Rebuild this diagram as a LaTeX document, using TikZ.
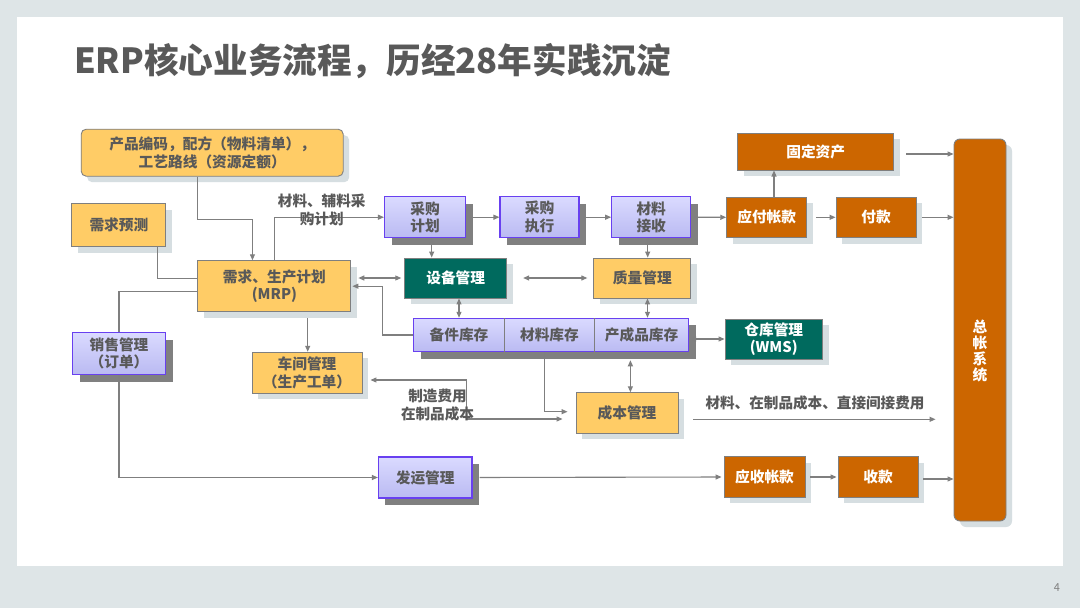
\documentclass[tikz,border=0pt]{standalone}
\usepackage{fontspec}
\setmainfont{Noto Sans CJK SC}
\usepackage{tikz}
\usetikzlibrary{arrows.meta, shadows}
\definecolor{slidebg}{RGB}{222, 229, 231}
\definecolor{txtgrey}{RGB}{89, 89, 89}
\definecolor{edgegrey}{RGB}{127, 127, 127}
\definecolor{boxyellow}{RGB}{255, 204, 102}
\definecolor{boxorange}{RGB}{204, 102, 0}
\definecolor{boxgreen}{RGB}{0, 106, 94}
\definecolor{lavtop}{RGB}{218, 218, 255}
\definecolor{lavbot}{RGB}{186, 186, 242}
\definecolor{lavedge}{RGB}{104, 64, 240}
\definecolor{softshadow}{RGB}{214, 222, 225}
\definecolor{hardshadow}{RGB}{128, 128, 128}

\begin{document}
\begin{tikzpicture}[x=1pt, y=-1pt,
  base/.style={inner sep=0pt, align=center, font=\fontsize{14.7}{17.5}\selectfont\bfseries},
  ybox/.style={base, draw=edgegrey, line width=0.9pt, fill=boxyellow, text=txtgrey,
    drop shadow={shadow xshift=6pt, shadow yshift=-6pt, fill=softshadow, opacity=1}},
  obox/.style={ybox, fill=boxorange, text=white},
  gbox/.style={ybox, fill=boxgreen, text=white},
  lbox/.style={base, draw=lavedge, line width=1.1pt, top color=lavtop, bottom color=lavbot, text=txtgrey,
    drop shadow={shadow xshift=7pt, shadow yshift=-7pt, fill=hardshadow, opacity=1}},
  cell/.style={base, text=txtgrey, minimum height=33.4pt},
  note/.style={base, text=txtgrey, font=\fontsize{14.6}{18}\selectfont\bfseries},
  link/.style={draw=edgegrey, line width=1.1pt},
  flow/.style={link, -{Triangle[length=6pt, width=5pt]}},
  twoway/.style={link, {Triangle[length=6pt, width=5pt]}-{Triangle[length=6pt, width=5pt]}}
]
  \useasboundingbox (0,0) rectangle (1080,608);
  \fill[slidebg] (0,0) rectangle (1080,608);
  \fill[white] (17,17) rectangle (1063,566);

  \node[anchor=west, inner sep=0pt, text=txtgrey, font=\fontsize{34.6}{40}\selectfont\bfseries] (title) at (74,61) {ERP核心业务流程，历经28年实践沉淀};
  \node[text=edgegrey, font=\fontsize{11}{13}\selectfont] (pageno) at (1057,588) {4};

  \node[ybox, rounded corners=5pt, minimum width=262pt, minimum height=47pt] (spec) at (212.2,152.7) {产品编码，配方（物料清单），\\工艺路线（资源定额）};
  \node[ybox, minimum width=94pt, minimum height=43pt] (fcst) at (118.9,225.4) {需求预测};
  \node[ybox, minimum width=153pt, minimum height=51pt] (mrp) at (274.4,286.2) {需求、生产计划\\(MRP)};
  \node[lbox, minimum width=93pt, minimum height=42pt] (sales) at (119,353.5) {销售管理\\（订单）};
  \node[ybox, minimum width=110pt, minimum height=41pt] (shop) at (307,372.7) {车间管理\\（生产工单）};
  \node[lbox, minimum width=81pt, minimum height=41pt] (plan) at (425,217.2) {采购\\计划};
  \node[lbox, minimum width=79pt, minimum height=41pt] (exec) at (539.5,217.2) {采购\\执行};
  \node[lbox, minimum width=79pt, minimum height=41pt] (recv) at (651.2,217.2) {材料\\接收};
  \node[gbox, minimum width=102pt, minimum height=40pt] (equip) at (455.7,278) {设备管理};
  \node[ybox, minimum width=97pt, minimum height=40pt] (qual) at (642.3,278) {质量管理};
  \node[lbox, minimum width=275pt, minimum height=33.4pt] (inv) at (551.1,335) {};
  \node[cell, minimum width=90.7pt] (spare) at (459,335) {备件库存};
  \node[cell, minimum width=90.3pt] (matinv) at (549.45,335) {材料库存};
  \node[cell, minimum width=94pt] (fginv) at (641.6,335) {产成品库存};
  \draw[link, line width=0.8pt] (spare.north east) -- (spare.south east) (matinv.north east) -- (matinv.south east);
  \node[gbox, minimum width=97.5pt, minimum height=40pt] (wms) at (773.75,339) {仓库管理\\(WMS)};
  \node[ybox, minimum width=102pt, minimum height=40.6pt] (cost) at (627,413) {成本管理};
  \node[obox, minimum width=80pt, minimum height=40.7pt] (ap) at (766.7,217.3) {应付帐款};
  \node[obox, minimum width=80pt, minimum height=40.7pt] (pay) at (876,217.3) {付款};
  \node[obox, minimum width=156pt, minimum height=36.7pt] (fa) at (815.7,151.7) {固定资产};
  \node[obox, rounded corners=6pt, minimum width=52pt, minimum height=382pt] (gl) at (980,330) {};
  \node[base, text=white, font=\fontsize{14.7}{15.8}\selectfont\bfseries, yshift=-21pt] (gltext) at (gl.center) {总\\帐\\系\\统};
  \node[lbox, minimum width=93.5pt, minimum height=41pt] (ship) at (425.2,477.5) {发运管理};
  \node[obox, minimum width=81pt, minimum height=40.6pt] (ar) at (764.5,477) {应收帐款};
  \node[obox, minimum width=80pt, minimum height=40.6pt] (rcpt) at (878,477) {收款};

  \draw[flow] (mrp.west |- spec.south) -- ++(0,42.7) -| ([xshift=55pt]mrp.north west);
  \draw[link] ([xshift=-9pt]fcst.south east) |- ([yshift=8pt]mrp.west);
  \draw[flow] (mrp.north) |- (plan.west);
  \draw[link] ([yshift=-5.5pt]mrp.west) -| (sales.north);
  \draw[flow] (sales.south) |- (ship.west);
  \draw[flow, shorten <=6pt] ([xshift=33.3pt]mrp.south) -- ([xshift=33.3pt]mrp.south |- shop.north);
  \draw[twoway, shorten <=7pt, shorten >=3pt] (mrp.east |- equip.west) -- (equip.west);
  \draw[flow, shorten >=1pt] (spare.west) -- ++(-31.3,0) |- (mrp.east);
  \draw[twoway] ([xshift=6.7pt]plan.south) -- ([xshift=6.7pt]plan.south |- equip.north);
  \draw[twoway, shorten <=16pt, shorten >=6pt] (equip.east) -- (qual.west);
  \draw[twoway] ([xshift=-3.5pt]recv.south) -- ([xshift=-3.5pt]recv.south |- qual.north);
  \draw[flow, shorten <=3pt] (plan.east) -- (exec.west);
  \draw[flow, shorten <=4pt] (exec.east) -- (recv.west);
  \draw[flow, shorten <=3pt] (recv.east) -- (ap.west);
  \draw[twoway] ([xshift=3.3pt]equip.south) -- ([xshift=3.3pt]equip.south |- inv.north);
  \draw[twoway] ([xshift=5.2pt]qual.south) -- ([xshift=5.2pt]qual.south |- inv.north);
  \draw[twoway, shorten <=1pt] (inv.east |- wms.west) -- (wms.west);
  \draw[twoway, shorten <=8pt] ([xshift=3.4pt]cost.north |- inv.south) -- ([xshift=3.4pt]cost.north);
  \draw[flow, shorten >=8pt] ([xshift=-5pt]matinv.south) |- ([yshift=1.3pt]cost.west);
  \draw[twoway, shorten <=8pt, shorten >=13pt] ([yshift=-7.3pt]shop.east) -- ++(104.4,0) |- ([yshift=-6pt]cost.west);
  \draw[flow, shorten <=15pt, shorten >=18pt] ([yshift=-6.3pt]cost.east) -- ([yshift=-6.3pt]cost.east -| gl.west);
  \draw[flow, shorten <=7pt, shorten >=2pt] (ship.east) -- (ar.west);
  \draw[flow, shorten <=5pt, shorten >=1pt] (ar.east) -- (rcpt.west);
  \draw[flow, shorten <=5pt] ([yshift=-2pt]rcpt.east) -- ([yshift=-2pt]rcpt.east -| gl.west);
  \draw[flow, shorten <=9pt] (ap.east) -- (pay.west);
  \draw[flow, shorten <=6pt] (pay.east) -- (pay.east -| gl.west);
  \draw[flow] ([xshift=7.3pt]ap.north) -- ([xshift=7.3pt]ap.north |- fa.south);
  \draw[flow, shorten <=12pt] ([yshift=-2.3pt]fa.east) -- ([yshift=-2.3pt]fa.east -| gl.west);

  \node[note] (buylbl) at (321.7,209.7) {材料、辅料采\\购计划};
  \node[note] (mfglbl) at (437.5,405) {制造费用\\在制品成本};
  \node[note] (costlbl) at (815,402.7) {材料、在制品成本、直接间接费用};
\end{tikzpicture}
\end{document}
